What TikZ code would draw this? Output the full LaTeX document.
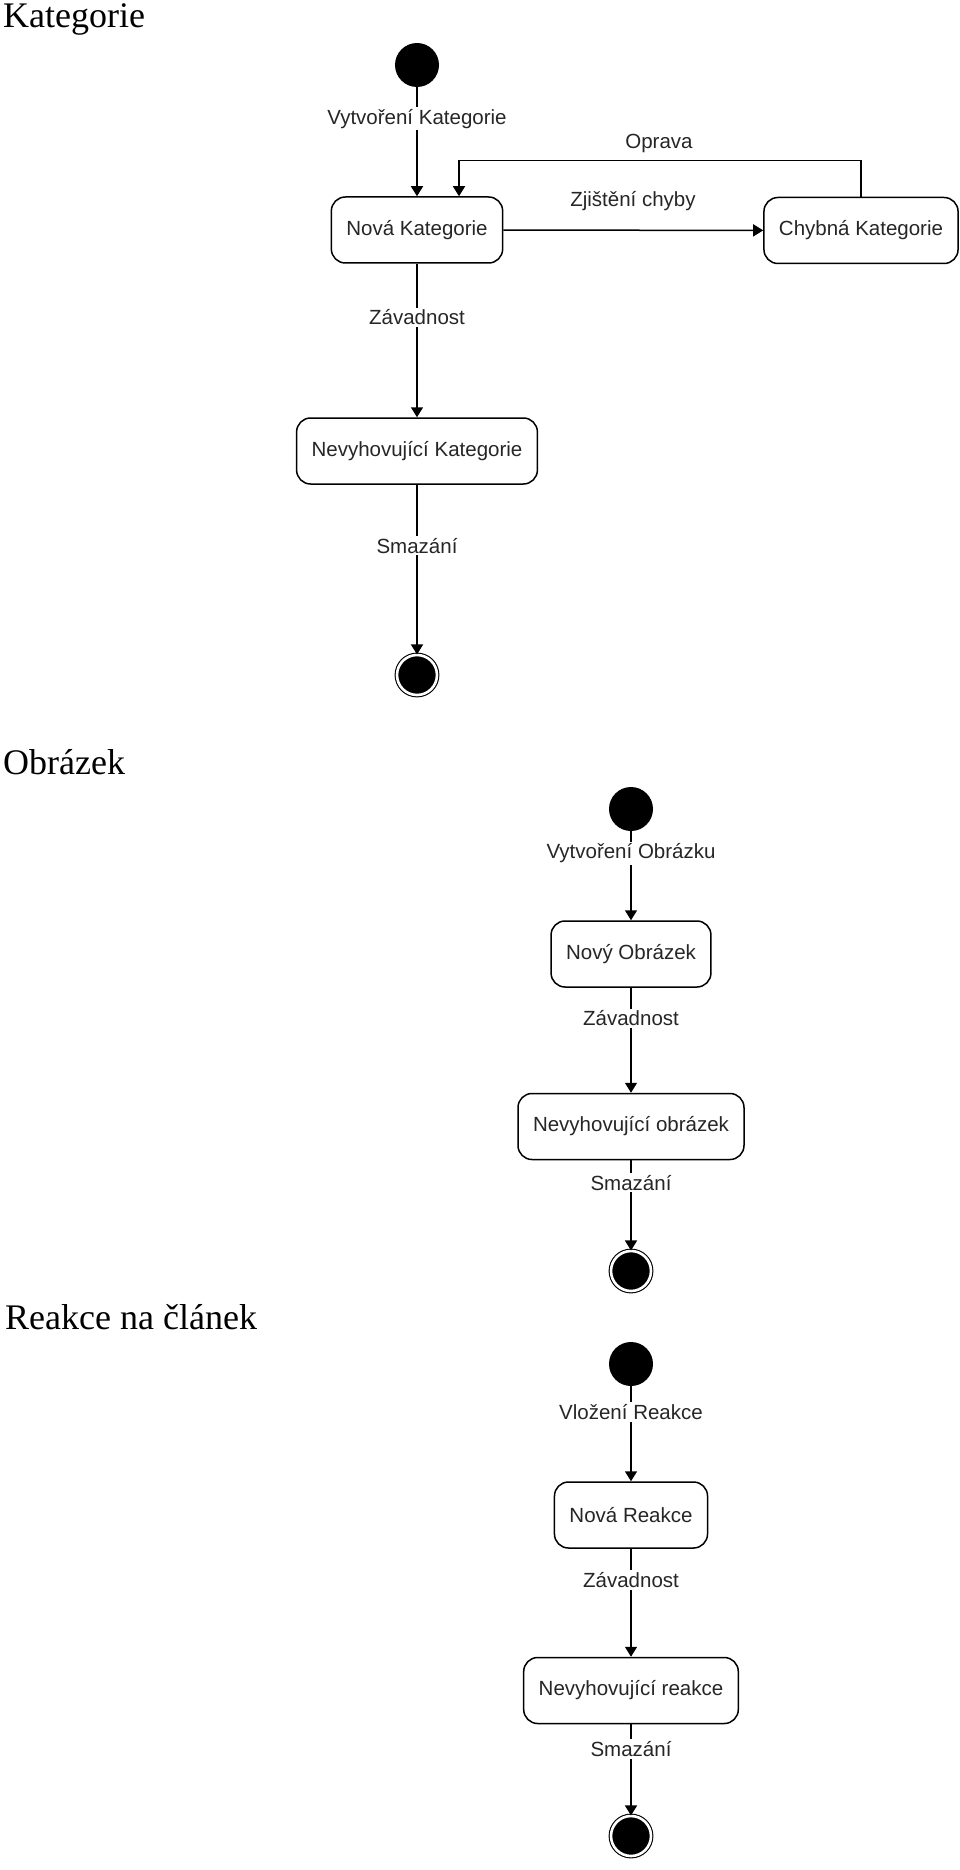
\documentclass[tikz,border=0pt]{standalone}
\usepackage{fontspec}
\setmainfont{Liberation Serif}
\newfontfamily\diagfont{Liberation Sans}
\usetikzlibrary{arrows.meta}
\tikzset{
  statebox/.style={rectangle,rounded corners=14pt,draw,line width=1.5pt,fill=white,
    inner xsep=15pt,minimum height=66pt,text=black!85},
  startv/.style={circle,fill=black,inner sep=0pt,minimum size=44pt},
  stopv/.style={circle,fill=black,draw=black,line width=1.1pt,double=white,
    double distance=2.6pt,inner sep=0pt,minimum size=40pt},
  trans/.style={line width=1.5pt,-{Triangle[length=10pt,width=12pt]}},
  translbl/.style={fill=white,inner sep=2pt,text=black!85},
  heading/.style={anchor=base west,inner sep=0pt,font=\fontsize{36}{43}\selectfont}
}

\begin{document}
\begin{tikzpicture}[x=1pt,y=-1pt,every node/.style={font=\diagfont\fontsize{20.5}{24}\selectfont}]
  \useasboundingbox (0,0) rectangle (960,1870);

  \node[heading] (hk) at (3,27.7) {Kategorie};
  \node[startv] (k0) at (417,65) {};
  \node[statebox] (k1) at (417,230) {Nová Kategorie};
  \node[statebox] (k2) at (861,230.5) {Chybná Kategorie};
  \node[statebox] (k3) at (417,451) {Nevyhovující Kategorie};
  \node[stopv] (k4) at (417,675) {};
  \draw[trans] (k0) -- node[translbl,pos=.29] (kl1) {Vytvoření Kategorie} (k1);
  \draw[trans] (k1) -- (k2);
  \node[translbl] (kl2) at (633,201) {Zjištění chyby};
  \draw[trans] (k2.north) -- ++(0,-36) -| ([xshift=42pt]k1.north);
  \node[translbl] (kl3) at (659,143) {Oprava};
  \draw[trans] (k1) -- node[translbl,pos=.35] (kl4) {Závadnost} (k3);
  \draw[trans] (k3) -- node[translbl,pos=.36] (kl5) {Smazání} (k4);

  \node[heading] (ho) at (3,774) {Obrázek};
  \node[startv] (o0) at (631,809) {};
  \node[statebox] (o1) at (631,954) {Nový Obrázek};
  \node[statebox] (o2) at (631,1126.5) {Nevyhovující obrázek};
  \node[stopv] (o3) at (631,1271) {};
  \draw[trans] (o0) -- node[translbl,pos=.25] (ol1) {Vytvoření Obrázku} (o1);
  \draw[trans] (o1) -- node[translbl,pos=.29] (ol2) {Závadnost} (o2);
  \draw[trans] (o2) -- node[translbl,pos=.25] (ol3) {Smazání} (o3);

  \node[heading] (hr) at (5,1329) {Reakce na článek};
  \node[startv] (r0) at (631,1364) {};
  \node[statebox] (r1) at (631,1515) {Nová Reakce};
  \node[statebox] (r2) at (631,1690.5) {Nevyhovující reakce};
  \node[stopv] (r3) at (631,1836) {};
  \draw[trans] (r0) -- node[translbl,pos=.27] (rl1) {Vložení Reakce} (r1);
  \draw[trans] (r1) -- node[translbl,pos=.29] (rl2) {Závadnost} (r2);
  \draw[trans] (r2) -- node[translbl,pos=.27] (rl3) {Smazání} (r3);
\end{tikzpicture}
\end{document}
